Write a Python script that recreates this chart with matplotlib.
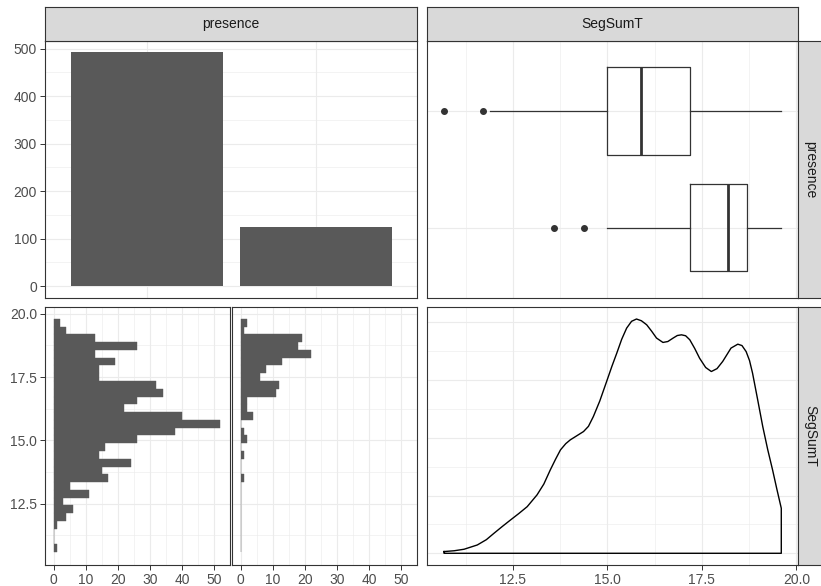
import matplotlib
matplotlib.use("Agg")
import matplotlib.pyplot as plt
import numpy as np

plt.rcParams["font.family"] = ["Liberation Sans", "DejaVu Sans"]

# presence counts (bar chart, top-left)
presence_levels = ["0", "1"]
presence_counts = [492, 125]

# SegSumT histograms by presence (30 bins, low -> high)
bin_low = 10.58
bin_width = 0.3076
hist_counts_0 = [1, 0, 0, 1, 4, 6, 3, 11, 5, 17, 15, 24, 14, 16, 26, 38, 52, 40,
                 22, 26, 34, 32, 14, 14, 19, 13, 26, 13, 4, 2]
hist_counts_1 = [0, 0, 0, 0, 0, 0, 0, 0, 0, 1, 0, 0, 1, 0, 2, 1, 0, 4, 2, 2,
                 11, 12, 6, 8, 13, 22, 18, 19, 1, 2]

# box plot stats of SegSumT by presence
box_q1 = [15.0, 17.19]
box_med = [15.9, 18.19]
box_q3 = [17.19, 18.69]
box_whislo = [11.9, 15.0]
box_whishi = [19.6, 19.6]
box_fliers = [[10.68, 11.70], [13.59, 14.39]]

# density of SegSumT
density_x = [10.68, 10.95, 11.21, 11.56, 11.8, 12.0, 12.22, 12.44, 12.66, 12.88,
             13.14, 13.32, 13.49, 13.63, 13.76, 13.9, 14.02, 14.2, 14.37, 14.5,
             14.63, 14.8, 14.98, 15.12, 15.25, 15.38, 15.51, 15.64, 15.77, 15.9,
             16.04, 16.17, 16.3, 16.47, 16.6, 16.74, 16.85, 16.96, 17.07, 17.18,
             17.31, 17.44, 17.6, 17.75, 17.9, 18.05, 18.27, 18.45, 18.56, 18.67,
             18.76, 18.84, 18.97, 19.11, 19.24, 19.37, 19.48, 19.6]
density_y = [0.0015, 0.0022, 0.0035, 0.0072, 0.0118, 0.0173, 0.0232, 0.0289,
             0.0345, 0.0404, 0.0506, 0.0600, 0.0722, 0.0815, 0.0896, 0.0950,
             0.0983, 0.1020, 0.1055, 0.1100, 0.1185, 0.1320, 0.1488, 0.1620,
             0.1735, 0.1855, 0.1951, 0.2010, 0.2030, 0.2015, 0.1980, 0.1925,
             0.1865, 0.1827, 0.1835, 0.1865, 0.1887, 0.1893, 0.1885, 0.1850,
             0.1775, 0.1690, 0.1610, 0.1575, 0.1600, 0.1662, 0.1778, 0.1812,
             0.1800, 0.1748, 0.1670, 0.1561, 0.1340, 0.1098, 0.0900, 0.0722,
             0.0560, 0.0390]

W, H = 821, 586
GRID = "#EBEBEB"
DARK = "#333333"
BAR = "#595959"
TXT = "#4D4D4D"
FS = 10

fig = plt.figure(figsize=(W / 100, H / 100), dpi=100)
fig.patch.set_facecolor("white")


def add_px(x0, y0, x1, y1):
    return fig.add_axes([x0 / W, 1 - y1 / H, (x1 - x0) / W, (y1 - y0) / H])


def style(ax, xmaj, xmin, ymaj, ymin, xlab=False, ylab=False):
    ax.set_xticks(xmaj)
    ax.set_xticks(xmin, minor=True)
    ax.set_yticks(ymaj)
    ax.set_yticks(ymin, minor=True)
    ax.grid(which="major", color=GRID, lw=0.8)
    ax.grid(which="minor", color=GRID, lw=0.4)
    ax.set_axisbelow(True)
    for s in ax.spines.values():
        s.set_color(DARK)
        s.set_linewidth(0.8)
    ax.tick_params(which="minor", length=0)
    ax.tick_params(axis="x", which="major", length=3.5 if xlab else 0,
                   width=0.7, color=DARK, labelbottom=xlab,
                   labelsize=FS, labelcolor=TXT, pad=2)
    ax.tick_params(axis="y", which="major", length=3.5 if ylab else 0,
                   width=0.7, color=DARK, labelleft=ylab,
                   labelsize=FS, labelcolor=TXT, pad=2.5)


def strip(x0, y0, x1, y1, label, rot=0):
    s = add_px(x0, y0, x1, y1)
    s.set_facecolor("#D9D9D9")
    s.set_xticks([])
    s.set_yticks([])
    for sp in s.spines.values():
        sp.set_color(DARK)
        sp.set_linewidth(0.8)
    s.text(0.5, 0.5, label, ha="center", va="center", rotation=rot,
           fontsize=FS, color="#1A1A1A", transform=s.transAxes)


L0, L1 = 45.3, 417.0
R0, R1 = 427.0, 798.3
T0, T1 = 40.7, 297.7
B0, B1 = 307.3, 565.0
seg_lim = (10.23, 20.05)

# top-left: bar chart of presence
ax = add_px(L0, T0, L1, T1)
xpos = np.arange(1, len(presence_levels) + 1)
ax.bar(xpos, presence_counts, width=0.9, color=BAR)
ax.set_xlim(0.4, 2.6)
ax.set_ylim(-24.6, 516.6)
style(ax, xpos, [], np.arange(0, 501, 100), np.arange(50, 501, 100), ylab=True)

# top-right: box plots
ax = add_px(R0, T0, R1, T1)
stats = []
for i in range(2):
    stats.append(dict(med=box_med[i], q1=box_q1[i], q3=box_q3[i],
                      whislo=box_whislo[i], whishi=box_whishi[i],
                      fliers=box_fliers[i]))
ax.bxp(stats, positions=[1, 2], widths=0.75, vert=False, showcaps=False,
       boxprops=dict(color=DARK, lw=0.9),
       whiskerprops=dict(color=DARK, lw=0.9),
       medianprops=dict(color=DARK, lw=2.0),
       flierprops=dict(marker="o", markerfacecolor=DARK, markeredgecolor=DARK,
                       markersize=4.0))
ax.set_xlim(*seg_lim)
ax.set_ylim(2.6, 0.4)
style(ax, [12.5, 15.0, 17.5, 20.0], [11.25, 13.75, 16.25, 18.75], [1, 2], [])
ax.set_yticklabels([])
ax.set_xticklabels([])

# bottom-left: histograms split by presence
centres = bin_low + bin_width * (np.arange(len(hist_counts_0)) + 0.5)
hist_sets = [hist_counts_0, hist_counts_1]
sub_x = [(L0, 230.0), (232.3, L1)]
for j, counts in enumerate(hist_sets):
    ax = add_px(sub_x[j][0], B0, sub_x[j][1], B1)
    ax.barh(centres, counts, height=bin_width, color=BAR,
            edgecolor=BAR, linewidth=0.3)
    ax.set_xlim(-2.6, 54.6)
    ax.set_ylim(10.07, 20.26)
    style(ax, np.arange(0, 51, 10), np.arange(5, 56, 10),
          [12.5, 15.0, 17.5, 20.0], [11.25, 13.75, 16.25, 18.75],
          xlab=True, ylab=(j == 0))
    if j == 0:
        ax.set_yticklabels(["12.5", "15.0", "17.5", "20.0"])

# bottom-right: density
ax = add_px(R0, B0, R1, B1)
px = list(density_x) + [density_x[-1], density_x[0], density_x[0]]
py = list(density_y) + [0, 0, density_y[0]]
ax.plot(px, py, color="black", lw=1.0, solid_joinstyle="round")
ax.set_xlim(*seg_lim)
dmax = max(density_y)
ax.set_ylim(-0.05 * dmax, 1.05 * dmax)
style(ax, [12.5, 15.0, 17.5, 20.0], [11.25, 13.75, 16.25, 18.75],
      np.arange(0, 0.21, 0.05), np.arange(0.025, 0.21, 0.05), xlab=True)
ax.set_xticklabels(["12.5", "15.0", "17.5", "20.0"])

# strips
strip(L0, 7.3, L1, T0, "presence")
strip(R0, 7.3, R1, T0, "SegSumT")
strip(R1, T0, 821.5, T1, "presence", rot=-90)
strip(R1, B0, 821.5, B1, "SegSumT", rot=-90)

fig.savefig("out.png", dpi=100, facecolor="white")
